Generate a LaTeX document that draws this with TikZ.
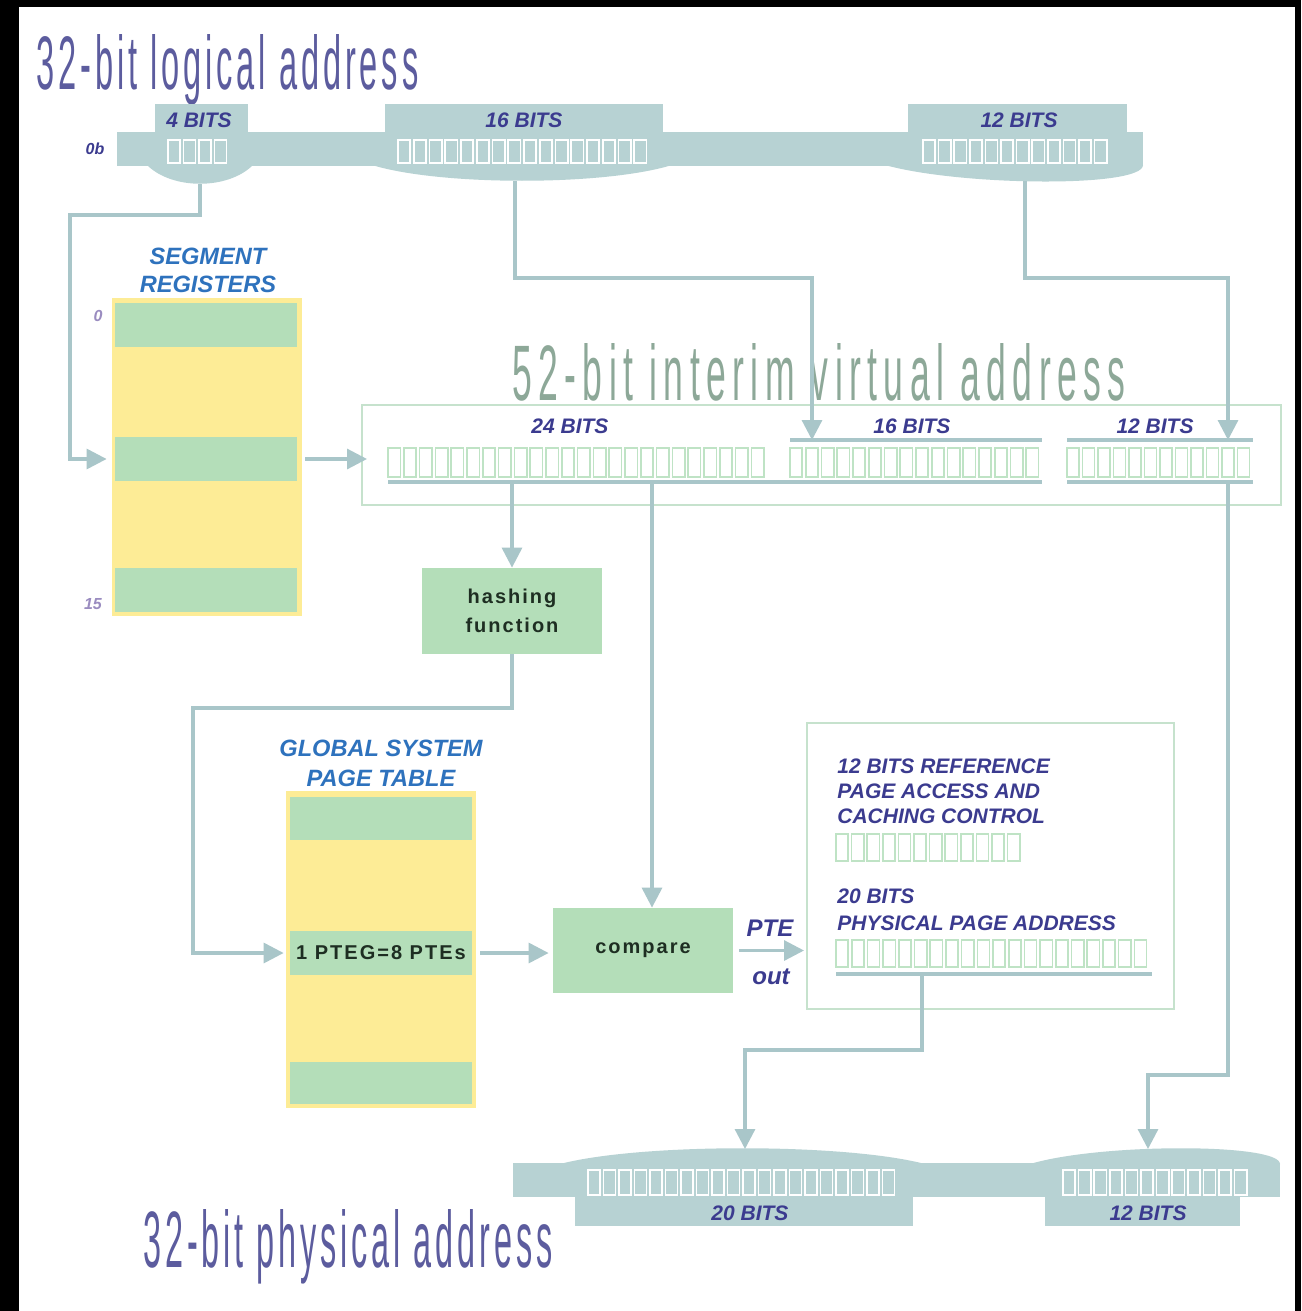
\documentclass[tikz,border=0pt]{standalone}
\usepackage{fontspec}
\usepackage{graphicx}
\setmainfont{Liberation Sans}
\newfontfamily\spacedfont[LetterSpace=18]{Liberation Sans}
\newfontfamily\midspacedfont[LetterSpace=12]{Liberation Sans}
\newfontfamily\boxfont[LetterSpace=10]{Liberation Sans}
\usetikzlibrary{arrows.meta}
\definecolor{barc}{HTML}{B7D2D3}
\definecolor{connc}{HTML}{A9C6C9}
\definecolor{greenfill}{HTML}{B4DEB9}
\definecolor{yellowfill}{HTML}{FDEC96}
\definecolor{navy}{HTML}{3B3B8F}
\definecolor{blueT}{HTML}{2E72BD}
\definecolor{titleP}{HTML}{5C5C9E}
\definecolor{titleG}{HTML}{8DA898}
\definecolor{bitG}{HTML}{BFE3C5}
\definecolor{frameG}{HTML}{C6E2CD}
\definecolor{lav}{HTML}{9A8CC0}
\definecolor{boxtext}{HTML}{1E2E22}
\newcommand\bitrow[6]{\foreach \k in {1,...,#3}{\draw[#6] ({#1+(\k-1)*#4},#2) rectangle ({#1+(\k-1)*#4+#4-3.5},{#2+#5});}}
\tikzset{
  connector/.style={draw=connc, line width=1.6pt, -{Triangle[length=10pt,width=10pt]}},
  plainline/.style={draw=connc, line width=1.6pt},
  wbit/.style={draw=white, line width=0.8pt},
  gbit/.style={draw=bitG, line width=0.8pt, fill=white},
  lbl/.style={font=\fontsize{10.5}{12.5}\selectfont\bfseries\itshape, text=navy, inner sep=0pt},
  bluelbl/.style={font=\fontsize{11.8}{14}\selectfont\bfseries\itshape, text=blueT, inner sep=0pt, align=center},
  yellowbox/.style={fill=yellowfill, draw=none, inner sep=0pt, minimum width=95pt, minimum height=158.5pt},
  rowbox/.style={fill=greenfill, draw=none, inner sep=0pt, minimum width=91pt, minimum height=22pt},
  funcbox/.style={fill=greenfill, draw=none, inner sep=0pt, minimum width=90pt, minimum height=43pt, text=boxtext,
     font=\boxfont\bfseries\fontsize{10}{14.5}\selectfont, align=center},
  framebox/.style={draw=frameG, line width=1pt, inner sep=0pt},
  titlenode/.style={anchor=base west, inner sep=0pt}
}
\begin{document}
\begin{tikzpicture}[x=0.5pt,y=-0.5pt]
\useasboundingbox (0,0) rectangle (1301,1311);
\fill[black] (0,0) rectangle (1301,1311);
\fill[white] (19,7) rectangle (1295,1311);

% ---------- titles ----------
\node[titlenode, text=titleP] (t1) at (36,90) {\resizebox{191pt}{27.5pt}{\midspacedfont 32-bit logical address}};
\node[titlenode, text=titleG] (t2) at (512,400) {\resizebox{306.5pt}{28.5pt}{\spacedfont 52-bit interim virtual address}};
\node[titlenode, text=titleP] (t3) at (143,1267) {\resizebox{204.5pt}{29pt}{\midspacedfont 32-bit physical address}};

% ---------- top (logical) bar ----------
\fill[barc] (117,132) rectangle (1143,166);
\fill[barc] (155,104) rectangle (248,133);
\fill[barc] (385,104) rectangle (663,133);
\fill[barc] (908,104) rectangle (1127,133);
\fill[barc] (147,165) .. controls (172,190) and (228,190) .. (253,165) -- cycle;
\fill[barc] (372,165) .. controls (440,186) and (604,186) .. (672,165) -- cycle;
\fill[barc] (885,165) .. controls (960,186) and (1143,188) .. (1143,165) -- cycle;
\bitrow{168}{140}{4}{15.5}{23}{wbit}
\bitrow{398}{140}{16}{15.75}{23}{wbit}
\bitrow{923}{140}{12}{15.6}{23}{wbit}
\node[lbl] (lab4) at (199,120) {4 BITS};
\node[lbl] (lab16) at (524,120) {16 BITS};
\node[lbl] (lab12t) at (1019,120) {12 BITS};
\node[lbl, font=\fontsize{8}{9}\selectfont\bfseries\itshape] (lab0b) at (95,149) {0b};

% ---------- segment registers ----------
\node[bluelbl] (seglbl) at (208,270) {SEGMENT\\REGISTERS};
\node[yellowbox, minimum height=159pt] (segbox) at (206.5,457) {};
\node[rowbox] (segrow0) at (206,325) {};
\node[rowbox] (segmid) at (206,459) {};
\node[rowbox] (segrow15) at (206,590) {};
\node[font=\fontsize{8}{9}\selectfont\bfseries\itshape, text=lav, inner sep=0pt] (lab0) at (98,316) {0};
\node[font=\fontsize{8}{9}\selectfont\bfseries\itshape, text=lav, inner sep=0pt] (lab15) at (93,604) {15};

% ---------- 52-bit interim virtual address ----------
\node[framebox, minimum width=459.5pt, minimum height=50pt] (vbox) at (821.5,455) {};
\bitrow{388}{448}{24}{15.8}{29}{gbit}
\bitrow{790}{448}{16}{15.75}{29}{gbit}
\bitrow{1067}{448}{12}{15.5}{29}{gbit}
\draw[plainline] (388,482) -- (1042,482);
\draw[plainline] (1067,482) -- (1253,482);
\draw[plainline] (790,440) -- (1042,440);
\draw[plainline] (1067,440) -- (1253,440);
\node[lbl] (lab24) at (570,426) {24 BITS};
\node[lbl] (lab16v) at (912,426) {16 BITS};
\node[lbl] (lab12v) at (1155,426) {12 BITS};

% ---------- hashing / page table / compare ----------
\node[funcbox] (hash) at (512,611) {hashing\\function};
\node[bluelbl, font=\fontsize{11.8}{15}\selectfont\bfseries\itshape] (ptlbl) at (381,763) {GLOBAL SYSTEM\\PAGE TABLE};
\node[yellowbox] (ptbox) at (381,949.5) {};
\node[rowbox, minimum height=21.5pt] (ptrow0) at (381,818.5) {};
\node[rowbox, text=boxtext, font=\boxfont\bfseries\fontsize{10}{12}\selectfont] (pteg) at (381,953) {1 PTEG=8 PTEs};
\node[rowbox, minimum height=21pt] (ptrow2) at (381,1083) {};
\node[funcbox, minimum height=42.5pt] (compare) at (643,950.5) {compare};

% ---------- PTE ----------
\node[framebox, minimum width=183.5pt, minimum height=143pt] (pte) at (990.5,866) {};
\node[lbl, anchor=north west, align=left] (pteref) at (837,758) {12 BITS REFERENCE\\PAGE ACCESS AND\\CACHING CONTROL};
\bitrow{836}{834}{12}{15.6}{27}{gbit}
\node[lbl, anchor=north west, align=left, font=\fontsize{10.5}{13.5}\selectfont\bfseries\itshape] (ptephys) at (837,888) {20 BITS\\PHYSICAL PAGE ADDRESS};
\bitrow{836}{940}{20}{15.7}{27}{gbit}
\draw[plainline] (836,974) -- (1152,974);
\node[lbl, font=\fontsize{12}{14}\selectfont\bfseries\itshape] (ptelbl) at (770,928) {PTE};
\node[lbl, font=\fontsize{12}{14}\selectfont\bfseries\itshape] (outlbl) at (771,977) {out};

% ---------- bottom (physical) bar ----------
\fill[barc] (513,1163) rectangle (1280,1197);
\fill[barc] (575,1196) rectangle (913,1226);
\fill[barc] (1045,1196) rectangle (1240,1226);
\fill[barc] (560,1164) .. controls (640,1143) and (845,1143) .. (925,1164) -- cycle;
\fill[barc] (1030,1164) .. controls (1100,1143) and (1280,1143) .. (1280,1164) -- cycle;
\bitrow{588}{1170}{20}{15.5}{25}{wbit}
\bitrow{1063}{1170}{12}{15.6}{25}{wbit}
\node[lbl] (lab20b) at (750,1213) {20 BITS};
\node[lbl] (lab12b) at (1148,1213) {12 BITS};

% ---------- connector points ----------
\coordinate (l4) at (200,184);
\coordinate (k1) at (70,215);
\coordinate (l16) at (515,181);
\coordinate (k2) at (812,278);
\coordinate (t16) at (812,440);
\coordinate (l12) at (1025,181);
\coordinate (k3) at (1228,278);
\coordinate (t12) at (1228,440);
\coordinate (u24a) at (512,482);
\coordinate (u24b) at (652,482);
\coordinate (k4) at (193,708);
\coordinate (u12) at (1228,483);
\coordinate (k6) at (1148,1075);
\coordinate (b12) at (1148,1149);
\coordinate (u20) at (922,974);
\coordinate (k5) at (745,1050);
\coordinate (b20) at (745,1149);

% ---------- connectors ----------
\draw[connector, shorten >=4pt] (l4) |- (k1) |- (segmid.west);
\draw[connector] (l16) |- (k2) -- (t16);
\draw[connector] (l12) |- (k3) -- (t12);
\draw[connector, shorten <=4pt, shorten >=-3pt] (segmid.east) -- (segmid.east -| vbox.west);
\draw[connector] (u24a) -- (u24a |- hash.north);
\draw[connector] (u24b) -- (u24b |- compare.north);
\draw[connector, shorten >=3pt] (hash.south) |- (k4) |- (pteg.west);
\draw[connector, shorten <=4pt, shorten >=2pt] (pteg.east) -- (pteg.east -| compare.west);
\draw[connector, shorten <=3pt, shorten >=1pt] (compare.east) -- (compare.east -| pte.west);
\draw[connector] (u20) |- (k5) -- (b20);
\draw[connector] (u12) |- (k6) -- (b12);
\end{tikzpicture}
\end{document}
